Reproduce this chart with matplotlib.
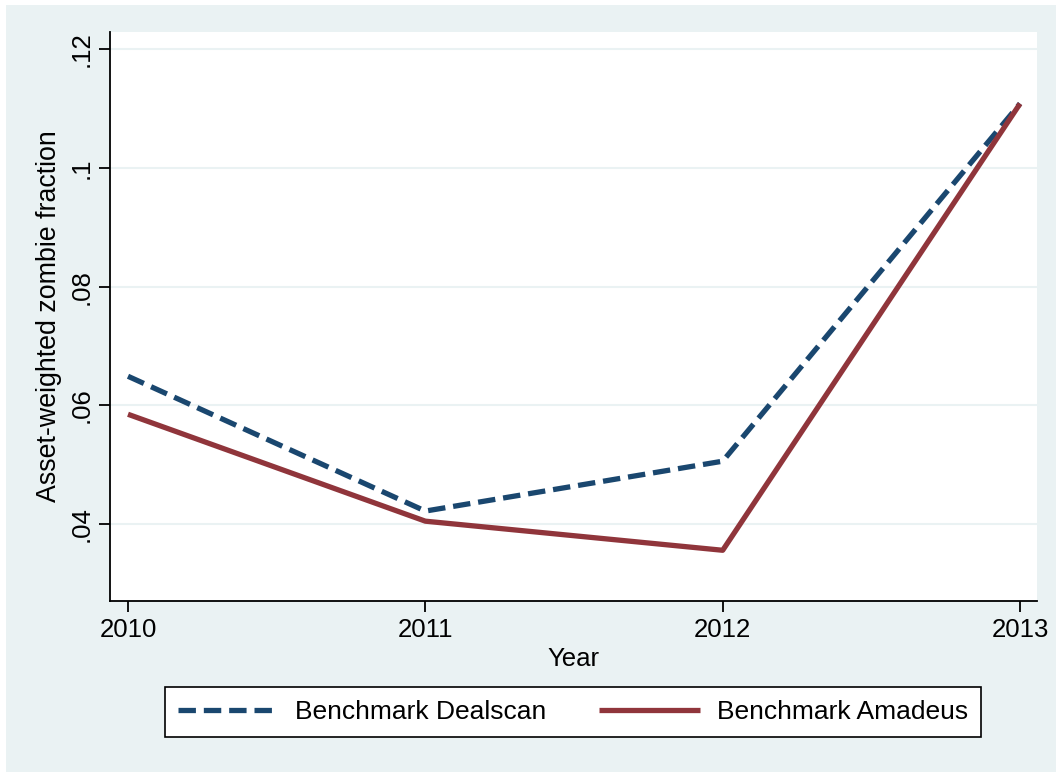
import matplotlib
matplotlib.use("Agg")
import matplotlib.pyplot as plt
from matplotlib.patches import Rectangle

plt.rcParams['font.family'] = ['Liberation Sans', 'DejaVu Sans']

years = [2010, 2011, 2012, 2013]
dealscan = [0.0649, 0.0422, 0.0506, 0.1108]
amadeus = [0.0585, 0.0405, 0.0356, 0.1108]
yticks = [0.04, 0.06, 0.08, 0.10, 0.12]
ytick_labels = ['.04', '.06', '.08', '.1', '.12']

W, H = 1056, 772
fs = 18.5
fig = plt.figure(figsize=(W / 100, H / 100), dpi=100, facecolor='white')
bg = '#EAF2F3'
# outer graph region
fig.patches.append(Rectangle((6 / W, 0), (W - 6) / W, (H - 5) / H,
                             transform=fig.transFigure, facecolor=bg,
                             edgecolor='none', zorder=-10))

ax = fig.add_axes([110 / W, 1 - 601 / H, (1037 - 110) / W, (601 - 32) / H])
ax.set_facecolor('white')

ax.plot(years, dealscan, color='#1A476F', lw=3.8, dashes=(3.3, 1.5),
        label='Benchmark Dealscan', solid_capstyle='butt', dash_capstyle='butt')
ax.plot(years, amadeus, color='#90353B', lw=3.8,
        label='Benchmark Amadeus', solid_capstyle='butt')

ax.set_xlim(2009.9395, 2013.057)
ax.set_ylim(0.02706, 0.12286)
ax.set_xticks(years)
ax.set_xticklabels([str(y) for y in years], fontsize=fs)
ax.set_yticks(yticks)
ax.set_yticklabels(ytick_labels, fontsize=fs, rotation=90, va='center')
ax.grid(axis='y', color=bg, lw=1.5)
ax.set_axisbelow(True)

for s in ['top', 'right']:
    ax.spines[s].set_visible(False)
for s in ['left', 'bottom']:
    ax.spines[s].set_linewidth(1.3)
ax.tick_params(length=8, width=1.3, pad=4)

ax.set_xlabel('Year', fontsize=fs, labelpad=4)
ax.set_ylabel('Asset-weighted zombie fraction', fontsize=19.3, labelpad=5)

leg = fig.legend(loc='center', bbox_to_anchor=(573 / W, 1 - 712 / H), ncol=2,
                 fontsize=19, frameon=True, fancybox=False, handlelength=3.8,
                 columnspacing=2.0, borderpad=0.5, handletextpad=0.65)
leg.get_frame().set_edgecolor('black')
leg.get_frame().set_linewidth(1.2)
leg.get_frame().set_alpha(1)

fig.savefig('out.png', dpi=100, facecolor=fig.get_facecolor())
